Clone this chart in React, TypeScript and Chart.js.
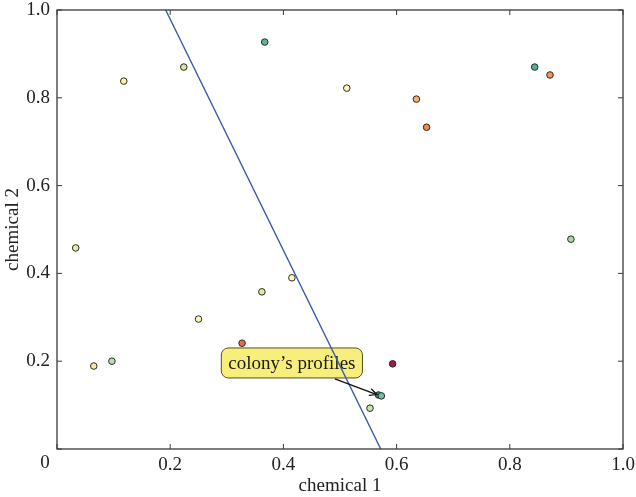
import React, { useEffect, useRef } from "react";
import { Chart, registerables } from "chart.js";

Chart.register(...registerables);

const xValues = [0.118, 0.224, 0.367, 0.512, 0.635, 0.653, 0.844, 0.871, 0.908, 0.033, 0.065, 0.097, 0.25, 0.327, 0.362, 0.415, 0.593, 0.568, 0.573, 0.553];
const yValues = [0.838, 0.87, 0.927, 0.822, 0.797, 0.733, 0.87, 0.852, 0.478, 0.458, 0.189, 0.2, 0.296, 0.241, 0.358, 0.39, 0.194, 0.123, 0.121, 0.093];
const pointColors = ["#fdf09e", "#d8e89a", "#5fb3a0", "#fef6b8", "#f8ae68", "#ee8450", "#55ae95", "#f49257", "#a9dca4", "#e2ee9c", "#fde49a", "#b8e0b0", "#fcf6b8", "#e96a49", "#dcec9f", "#fff5c0", "#9e1a48", "#3f8f7f", "#6cc0a8", "#c5e5a5"];
const lineX = [0.192, 0.572];
const lineY = [1.0, 0.0];
const tickValues = [0, 0.2, 0.4, 0.6, 0.8, 1.0];
const annotationText = "colony’s profiles";
const annotationAt = [0.415, 0.196];
const arrowTo = [0.565, 0.124];

const FONT = "'Liberation Serif', 'DejaVu Serif', serif";

const framePlugin = {
  id: "frame",
  beforeDatasetsDraw(chart: any) {
    const { ctx, scales } = chart;
    const xs = scales.x, ys = scales.y;
    const cx = xs.getPixelForValue(annotationAt[0]);
    const cy = ys.getPixelForValue(annotationAt[1]);
    ctx.save();
    ctx.font = `19px ${FONT}`;
    const tw = ctx.measureText(annotationText).width;
    const w = tw + 14, h = 30;
    const bx = cx - w / 2, by = cy - h / 2;
    ctx.beginPath();
    ctx.roundRect(bx, by, w, h, 7);
    ctx.fillStyle = "rgba(246,236,110,0.9)";
    ctx.fill();
    ctx.lineWidth = 1;
    ctx.strokeStyle = "#55501e";
    ctx.stroke();
    ctx.fillStyle = "#1a1a1a";
    ctx.textAlign = "center";
    ctx.textBaseline = "middle";
    ctx.fillText(annotationText, cx, cy + 1);
    ctx.restore();
  },
  afterDatasetsDraw(chart: any) {
    const { ctx, chartArea, scales } = chart;
    const xs = scales.x, ys = scales.y;
    const { left, right, top, bottom } = chartArea;
    ctx.save();
    const cx = xs.getPixelForValue(annotationAt[0]);
    const cy = ys.getPixelForValue(annotationAt[1]);
    const sx = cx + 43, sy = cy + 16;
    const ex = xs.getPixelForValue(arrowTo[0]);
    const ey = ys.getPixelForValue(arrowTo[1]);
    ctx.strokeStyle = "#111";
    ctx.lineWidth = 1.3;
    ctx.beginPath();
    ctx.moveTo(sx, sy);
    ctx.lineTo(ex, ey);
    ctx.stroke();
    const ang = Math.atan2(ey - sy, ex - sx);
    const L = 8;
    ctx.beginPath();
    ctx.moveTo(ex - L * Math.cos(ang - 0.45), ey - L * Math.sin(ang - 0.45));
    ctx.lineTo(ex, ey);
    ctx.lineTo(ex - L * Math.cos(ang + 0.45), ey - L * Math.sin(ang + 0.45));
    ctx.stroke();
    ctx.strokeStyle = "#3a3a3a";
    ctx.lineWidth = 1.3;
    ctx.strokeRect(left, top, right - left, bottom - top);
    ctx.lineWidth = 1;
    const tl = 5;
    for (const v of tickValues) {
      const px = xs.getPixelForValue(v);
      ctx.beginPath();
      ctx.moveTo(px, bottom); ctx.lineTo(px, bottom - tl);
      ctx.moveTo(px, top); ctx.lineTo(px, top + tl);
      ctx.stroke();
      const py = ys.getPixelForValue(v);
      ctx.beginPath();
      ctx.moveTo(left, py); ctx.lineTo(left + tl, py);
      ctx.moveTo(right, py); ctx.lineTo(right - tl, py);
      ctx.stroke();
    }
    ctx.font = `19px ${FONT}`;
    ctx.fillStyle = "#222";
    ctx.textAlign = "center";
    ctx.textBaseline = "middle";
    ctx.fillText("0", left - 12, bottom + 14);
    ctx.restore();
  },
};

export default function App() {
  const ref = useRef<HTMLCanvasElement>(null);
  useEffect(() => {
    const points = xValues.map((x, i) => ({ x, y: yValues[i] }));
    const linePts = lineX.map((x, i) => ({ x, y: lineY[i] }));
    const chart = new Chart(ref.current!, {
      type: "scatter",
      data: {
        datasets: [
          {
            type: "line",
            data: linePts,
            borderColor: "#3a5aa8",
            borderWidth: 1.4,
            pointRadius: 0,
            fill: false,
            order: 1,
          } as any,
          {
            data: points,
            backgroundColor: pointColors,
            borderColor: "#2a2a2a",
            borderWidth: 1,
            pointRadius: 3.3,
            order: 2,
          },
        ],
      },
      options: {
        animation: false,
        responsive: false,
        maintainAspectRatio: false,
        layout: { padding: 0 },
        plugins: { legend: { display: false }, tooltip: { enabled: false } },
        scales: {
          x: {
            type: "linear",
            min: 0,
            max: 1,
            afterBuildTicks: (s: any) => { s.ticks = tickValues.map((v) => ({ value: v })); },
            afterFit: (s: any) => { s.height = 48; s.paddingLeft = 0; s.paddingRight = 13; },
            grid: { display: false, drawTicks: false },
            border: { display: false },
            ticks: {
              padding: 5,
              color: "#222",
              font: { family: FONT, size: 19 },
              callback: (v: any) => (v === 0 ? "" : v === 1 ? "1.0" : String(v)),
            },
            title: { display: true, text: "chemical 1", color: "#222", font: { family: FONT, size: 19 }, padding: { top: 0, bottom: 0 } },
          },
          y: {
            type: "linear",
            min: 0,
            max: 1,
            afterBuildTicks: (s: any) => { s.ticks = tickValues.map((v) => ({ value: v })); },
            afterFit: (s: any) => { s.width = 57; s.paddingTop = 10; s.paddingBottom = 0; },
            grid: { display: false, drawTicks: false },
            border: { display: false },
            ticks: {
              padding: 7,
              color: "#222",
              font: { family: FONT, size: 19 },
              callback: (v: any) => (v === 0 ? "" : v === 1 ? "1.0" : String(v)),
            },
            title: { display: true, text: "chemical 2", color: "#222", font: { family: FONT, size: 19 }, padding: { top: 2, bottom: 0 } },
          },
        },
      },
      plugins: [framePlugin],
    });
    return () => chart.destroy();
  }, []);
  return (
    <div style={{ position: "fixed", left: 0, top: 0, width: 636, height: 497, background: "#fff" }}>
      <canvas ref={ref} width={636} height={497} style={{ width: 636, height: 497 }} />
    </div>
  );
}
